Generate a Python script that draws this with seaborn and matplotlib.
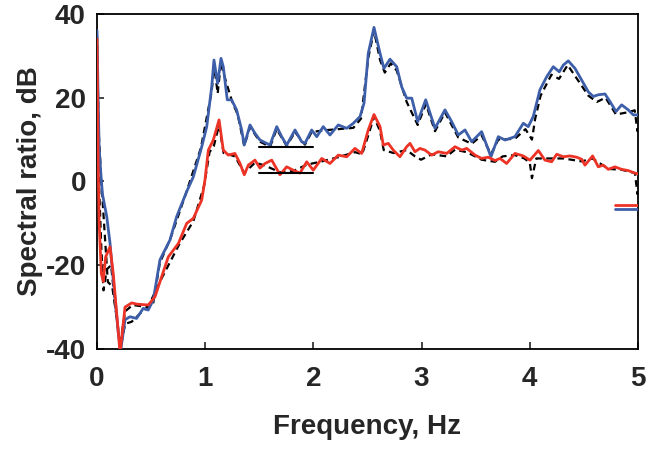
import pandas as pd
import numpy as np
import matplotlib
matplotlib.use("Agg")
import matplotlib.pyplot as plt
import seaborn as sns

# spectral ratio curves (frequency in Hz, ratio in dB)

blue_f = [0.000, 0.010, 0.020, 0.035, 0.050, 0.090, 0.120, 0.150, 0.197, 0.218,
          0.259, 0.305, 0.366, 0.427, 0.473, 0.520, 0.582, 0.674, 0.736, 0.829,
          0.890, 0.968, 1.014, 1.060, 1.081, 1.115, 1.146, 1.167, 1.204, 1.244,
          1.290, 1.337, 1.361, 1.414, 1.460, 1.506, 1.599, 1.661, 1.707, 1.753,
          1.830, 1.892, 1.922, 1.984, 2.031, 2.091, 2.153, 2.230, 2.308, 2.369,
          2.431, 2.468, 2.507, 2.560, 2.616, 2.652, 2.708, 2.770, 2.816, 2.862,
          2.909, 2.964, 3.038, 3.124, 3.216, 3.278, 3.339, 3.401, 3.463, 3.555,
          3.641, 3.709, 3.771, 3.863, 3.940, 3.986, 4.032, 4.094, 4.156, 4.217,
          4.273, 4.310, 4.356, 4.418, 4.480, 4.541, 4.587, 4.633, 4.695, 4.741,
          4.797, 4.849, 4.910, 4.957, 5.000]
blue_db = [36.0, 20.0, 8.0, 2.0, -3.0, -8.4, -14.7, -23.5, -36.2, -40.5,
           -33.0, -32.3, -32.7, -30.3, -30.7, -28.3, -18.7, -14.0, -8.4, -2.4,
           1.1, 8.3, 13.1, 22.6, 29.0, 23.4, 29.4, 27.4, 19.5, 19.5,
           17.1, 12.3, 8.7, 13.5, 11.5, 9.9, 8.7, 13.1, 10.7, 8.7,
           12.3, 9.5, 9.1, 12.3, 10.7, 13.1, 11.1, 13.5, 12.7, 13.9,
           15.5, 18.7, 30.6, 36.8, 30.6, 27.0, 29.2, 27.4, 22.6, 19.9,
           19.9, 14.3, 19.5, 12.7, 17.1, 14.3, 11.1, 12.3, 9.5, 11.9,
           5.9, 10.7, 9.9, 10.7, 13.9, 13.1, 15.5, 21.9, 25.0, 27.4,
           26.2, 27.8, 28.8, 27.0, 24.2, 21.4, 20.3, 20.7, 20.9, 19.1,
           16.7, 18.3, 17.1, 15.9, 15.9]

red_f = [0.000, 0.010, 0.020, 0.040, 0.058, 0.080, 0.120, 0.150, 0.190, 0.213,
         0.259, 0.320, 0.370, 0.474, 0.536, 0.598, 0.659, 0.752, 0.829, 0.890,
         0.968, 0.998, 1.029, 1.075, 1.128, 1.167, 1.213, 1.275, 1.322, 1.361,
         1.398, 1.460, 1.506, 1.553, 1.615, 1.691, 1.753, 1.814, 1.876, 1.938,
         1.999, 2.077, 2.153, 2.230, 2.308, 2.384, 2.446, 2.507, 2.560, 2.616,
         2.646, 2.692, 2.738, 2.800, 2.862, 2.893, 2.939, 2.985, 3.031, 3.093,
         3.154, 3.232, 3.309, 3.371, 3.417, 3.494, 3.555, 3.616, 3.678, 3.725,
         3.786, 3.863, 3.940, 4.002, 4.079, 4.140, 4.202, 4.249, 4.310, 4.372,
         4.433, 4.480, 4.510, 4.581, 4.633, 4.679, 4.726, 4.787, 4.849, 4.910,
         4.972, 5.000]
red_db = [34.0, 5.0, -10.0, -22.0, -23.9, -18.0, -15.6, -22.0, -34.0, -41.0,
          -30.0, -29.0, -29.3, -29.5, -27.5, -22.7, -18.0, -14.8, -10.0, -8.8,
          -4.4, 0.4, 7.5, 9.9, 14.7, 7.5, 6.3, 6.7, 4.3, 1.6,
          3.9, 5.1, 3.2, 4.3, 5.1, 1.6, 3.5, 2.7, 2.0, 4.7,
          2.7, 5.5, 4.3, 6.3, 5.9, 7.9, 6.7, 12.3, 16.0, 13.1,
          8.7, 9.1, 7.5, 5.9, 8.3, 9.1, 7.1, 7.9, 7.5, 6.3,
          7.1, 6.7, 8.3, 7.5, 7.9, 6.3, 5.5, 5.8, 5.0, 5.5,
          4.3, 6.7, 6.1, 5.1, 7.4, 5.1, 4.7, 6.5, 5.9, 6.1,
          5.8, 5.3, 3.9, 6.1, 3.5, 3.9, 2.9, 3.5, 2.9, 2.6,
          2.0, 1.8]

# black dashed companions of the two curves
dash_hi_f = [0.000, 0.015, 0.040, 0.070, 0.100, 0.140, 0.190, 0.215, 0.260, 0.320,
             0.420, 0.520, 0.580, 0.680, 0.820, 0.960, 1.060, 1.082, 1.115, 1.146,
             1.190, 1.250, 1.300, 1.361, 1.414, 1.506, 1.600, 1.660, 1.753, 1.830,
             1.922, 1.984, 2.091, 2.230, 2.369, 2.440, 2.507, 2.560, 2.616, 2.660,
             2.715, 2.770, 2.862, 2.964, 3.040, 3.124, 3.216, 3.339, 3.463, 3.555,
             3.641, 3.709, 3.863, 3.960, 4.020, 4.050, 4.100, 4.200, 4.270, 4.350,
             4.450, 4.541, 4.620, 4.700, 4.797, 4.900, 4.970, 4.995, 5.000]
dash_hi_db = [35.0, 12.0, 0.0, -12.0, -24.0, -25.0, -34.0, -40.0, -34.0, -33.5,
              -31.0, -29.0, -19.5, -13.5, -3.0, 8.0, 21.5, 28.0, 21.0, 28.5,
              24.0, 19.0, 16.0, 8.5, 13.0, 9.5, 8.3, 12.5, 8.5, 11.8,
              8.8, 11.8, 12.2, 12.5, 12.8, 15.0, 29.5, 36.0, 29.0, 26.0,
              28.2, 26.5, 19.0, 13.5, 18.5, 12.0, 16.5, 10.5, 9.0, 11.0,
              6.5, 10.0, 10.2, 12.5, 10.0, 15.0, 20.5, 25.5, 24.5, 27.8,
              24.0, 20.5, 19.0, 20.0, 16.0, 16.5, 17.0, 12.0, 12.5]
dash_lo_f = [0.000, 0.015, 0.040, 0.060, 0.090, 0.130, 0.170, 0.213, 0.260, 0.330,
             0.470, 0.600, 0.760, 0.890, 0.990, 1.040, 1.080, 1.128, 1.170, 1.275,
             1.361, 1.460, 1.553, 1.691, 1.814, 1.938, 2.077, 2.230, 2.384, 2.450,
             2.507, 2.560, 2.616, 2.650, 2.740, 2.862, 2.939, 2.995, 3.093, 3.232,
             3.309, 3.417, 3.555, 3.678, 3.750, 3.863, 3.950, 4.000, 4.020, 4.060,
             4.140, 4.310, 4.480, 4.580, 4.726, 4.849, 4.972, 4.995, 5.000]
dash_lo_db = [33.0, 2.0, -16.0, -26.0, -21.0, -20.0, -30.0, -39.0, -31.0, -29.5,
              -30.0, -23.0, -15.0, -9.5, -1.0, 7.0, 8.5, 13.5, 6.8, 6.0,
              2.0, 4.5, 3.8, 2.2, 2.5, 4.0, 4.8, 5.8, 7.0, 6.5,
              11.0, 15.5, 12.0, 7.5, 6.8, 7.5, 6.0, 5.2, 6.5, 6.0,
              7.6, 7.0, 5.2, 4.7, 6.0, 6.3, 5.5, 4.5, 0.8, 5.5,
              5.5, 5.5, 4.8, 5.5, 3.0, 2.8, 2.0, -3.0, -2.5]

# black reference segments (1.5 - 2 Hz) and the two short level marks at the right edge
seg_f = [1.5, 2.0]
seg_db = [8.2, 2.1]
mark_f = [4.79, 5.0]
mark_red_db = -5.6
mark_blue_db = -6.6

blue = "#3d5ea9"
red = "#ec3326"

sns.set_style("ticks")
plt.rcParams['font.family'] = ['Liberation Sans', 'DejaVu Sans']
plt.rcParams['font.weight'] = 'bold'
plt.rcParams['axes.unicode_minus'] = False
plt.rcParams['lines.solid_joinstyle'] = 'round'
plt.rcParams['lines.dash_joinstyle'] = 'round'

fig = plt.figure(figsize=(6.70, 4.51), dpi=100)
ax = fig.add_axes([0.1448, 0.2262, 0.8074, 0.7428])

sns.lineplot(x=dash_hi_f, y=dash_hi_db, ax=ax, color="black", lw=1.6,
             linestyle=(0, (3, 2)), zorder=2)
sns.lineplot(x=dash_lo_f, y=dash_lo_db, ax=ax, color="black", lw=1.6,
             linestyle=(0, (3, 2)), zorder=2)
sns.lineplot(x=blue_f, y=blue_db, ax=ax, color=blue, lw=2.0, zorder=3)
sns.lineplot(x=red_f, y=red_db, ax=ax, color=red, lw=2.0, zorder=3)

for level in seg_db:
    ax.plot(seg_f, [level, level], color="black", lw=1.5, zorder=4)
ax.plot(mark_f, [mark_red_db] * 2, color=red, lw=2.0, zorder=4)
ax.plot(mark_f, [mark_blue_db] * 2, color=blue, lw=2.0, zorder=4)

ax.set_xlim(0, 5)
ax.set_ylim(-40, 40)
ax.set_xticks([0, 1, 2, 3, 4, 5])
ax.set_yticks([-40, -20, 0, 20, 40])
ax.tick_params(direction="in", length=5, width=1.2, labelsize=20)
ax.tick_params(axis="x", pad=12)
ax.tick_params(axis="y", pad=8)
for lab in ax.get_xticklabels() + ax.get_yticklabels():
    lab.set_fontweight("bold")
for sp in ax.spines.values():
    sp.set_linewidth(1.3)
    sp.set_color("black")

ax.set_xlabel("Frequency, Hz", fontsize=20, fontweight="bold", labelpad=16)
ax.set_ylabel("Spectral ratio, dB", fontsize=20, fontweight="bold", labelpad=2)

plt.savefig("out.png", dpi=100)
